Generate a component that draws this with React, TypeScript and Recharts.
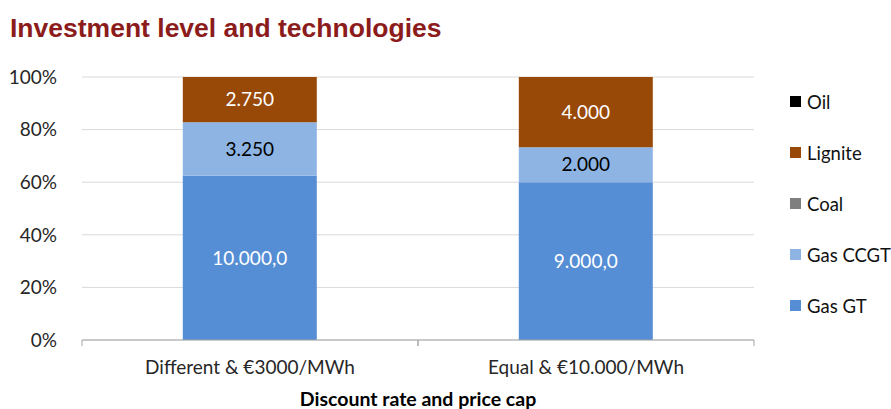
import React from "react";
import { BarChart, Bar, XAxis, YAxis, CartesianGrid, LabelList, Legend } from "recharts";

// Investment level and technologies (100% stacked)
const categories = ["Different & €3000/MWh", "Equal & €10.000/MWh"];
const gasGT = [10000, 9000];
const gasCCGT = [3250, 2000];
const coal = [0, 0];
const lignite = [2750, 4000];
const oil = [0, 0];
const yTicks = [0, 0.2, 0.4, 0.6, 0.8, 1];
// legend order, top to bottom
const legendOrder = ["Oil", "Lignite", "Coal", "Gas CCGT", "Gas GT"];

const COLORS = { gt: "#558ED5", ccgt: "#8EB4E3", coal: "#7F7F7F", lignite: "#984807", oil: "#000000" };
const FONT = "Lato, 'Open Sans', sans-serif";
const TXT = "#262626";

const data = categories.map((name, i) => ({
  name, gt: gasGT[i], ccgt: gasCCGT[i], coal: coal[i], lignite: lignite[i], oil: oil[i],
}));

// formato europeo: 10.000,0
const fmtDE = (n: number, d = 0) => {
  const [i, f] = n.toFixed(d).split(".");
  const ii = i.replace(/\B(?=(\d{3})+(?!\d))/g, ".");
  return f ? `${ii},${f}` : ii;
};

const XTick = (props: any) => {
  const { x, y, payload } = props;
  const off = payload?.offset ?? 168;
  const ay = y - 8;
  return (
    <g>
      <line x1={x - off} x2={x - off} y1={ay} y2={ay + 6} stroke="#A6A6A6" />
      <line x1={x + off} x2={x + off} y1={ay} y2={ay + 6} stroke="#A6A6A6" />
      <text x={x} y={y + 26} textAnchor="middle" fontFamily={FONT} fontSize={19} fill={TXT}>{payload.value}</text>
    </g>
  );
};

const LegendBox = (props: any) => {
  const items = legendOrder
    .map((n) => (props.payload || []).find((p: any) => p.value === n))
    .filter(Boolean);
  return (
    <div style={{ fontFamily: FONT, fontSize: 18.5, color: "#111" }}>
      {items.map((it: any) => (
        <div key={it.value} style={{ display: "flex", alignItems: "center", height: 51, whiteSpace: "nowrap" }}>
          <span style={{ width: 11, height: 11, background: it.color, display: "inline-block", marginRight: 6 }} />
          {it.value}
        </div>
      ))}
    </div>
  );
};

export default function App() {
  return (
    <div style={{ position: "absolute", left: 0, top: 0, width: 891, height: 409, background: "#fff", overflow: "hidden" }}>
      <div style={{ position: "absolute", left: 10, top: 15, fontFamily: "'Liberation Sans', Arial, sans-serif", fontWeight: 700, fontSize: 26.5, lineHeight: "26px", color: "#8C1C1C", whiteSpace: "nowrap" }}>
        Investment level and technologies
      </div>
      <BarChart width={891} height={409} data={data} stackOffset="expand" barCategoryGap="30%"
        margin={{ top: 77, right: 137, left: 0, bottom: 0 }}>
        <CartesianGrid vertical={false} stroke="#D9D9D9" />
        <XAxis dataKey="name" height={69} axisLine={{ stroke: "#A6A6A6" }} tickLine={false} tick={<XTick />}
          label={{ value: "Discount rate and price cap", position: "insideBottom", offset: 3, fontFamily: FONT, fontSize: 19.5, fontWeight: 700, fill: "#000" }} />
        <YAxis domain={[0, 1]} ticks={yTicks} tickFormatter={(v: number) => `${Math.round(v * 100)}%`}
          width={82} axisLine={false} tickLine={false} tickMargin={19}
          tick={{ fontFamily: FONT, fontSize: 19, fill: TXT }} />
        <Legend layout="vertical" align="center" verticalAlign="middle" content={<LegendBox />}
          wrapperStyle={{ position: "absolute", left: 790, top: 76, width: 101 }} />
        <Bar dataKey="gt" name="Gas GT" stackId="a" fill={COLORS.gt} isAnimationActive={false}>
          <LabelList dataKey="gt" position="center" formatter={(v: any) => fmtDE(Number(v), 1)} fill="#fff" fontFamily={FONT} fontSize={19} />
        </Bar>
        <Bar dataKey="ccgt" name="Gas CCGT" stackId="a" fill={COLORS.ccgt} isAnimationActive={false}>
          <LabelList dataKey="ccgt" position="center" formatter={(v: any) => fmtDE(Number(v))} fill="#000" fontFamily={FONT} fontSize={19} />
        </Bar>
        <Bar dataKey="coal" name="Coal" stackId="a" fill={COLORS.coal} isAnimationActive={false} />
        <Bar dataKey="lignite" name="Lignite" stackId="a" fill={COLORS.lignite} isAnimationActive={false}>
          <LabelList dataKey="lignite" position="center" formatter={(v: any) => fmtDE(Number(v))} fill="#fff" fontFamily={FONT} fontSize={19} />
        </Bar>
        <Bar dataKey="oil" name="Oil" stackId="a" fill={COLORS.oil} isAnimationActive={false} />
      </BarChart>
    </div>
  );
}
